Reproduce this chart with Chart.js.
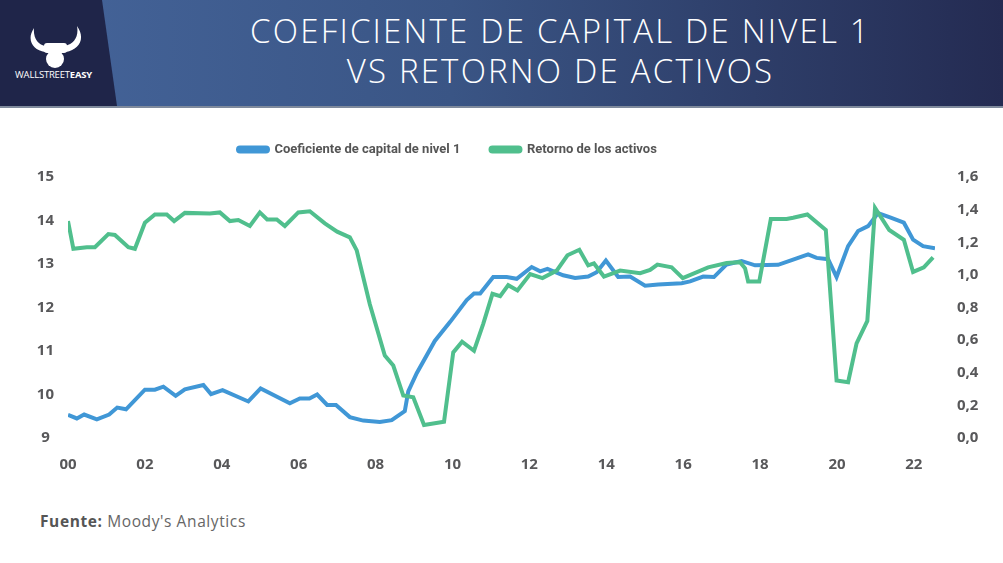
<!DOCTYPE html>
<html>
<head>
<meta charset="utf-8">
<script src="https://cdn.jsdelivr.net/npm/chart.js@4.4.1/dist/chart.umd.min.js"></script>
<style>
  body { margin: 0; width: 1003px; height: 563px; background: #fff; overflow: hidden; position: relative; font-family: 'Open Sans', sans-serif; }
  .header { position: absolute; left: 0; top: 0; width: 1003px; height: 106px;
    background: linear-gradient(90deg, #45659b 0%, #3a5585 45%, #242b52 100%);
    border-bottom: 2px solid #7f8a9c; }
  .brand { position: absolute; left: 0; top: 0; width: 118px; height: 106px; background: #1f2549;
    clip-path: polygon(0 0, 102px 0, 117px 106px, 0 106px); }
  .brand svg { position: absolute; left: 29px; top: 26px; }
  .brand .name { position: absolute; left: 15px; top: 68px; color: #fff; font-size: 9.5px; letter-spacing: -0.2px; }
  .title { position: absolute; left: 118px; right: 0; top: 11px; text-align: center; color: #fff;
    font-weight: 300; font-size: 33px; line-height: 40px; letter-spacing: 2.2px; }
  .source { position: absolute; left: 40px; top: 510px; font-size: 15.5px; color: #666; letter-spacing: 0.6px; }
  .source b { color: #555; }
  #chart { position: absolute; left: 0; top: 110px; }
</style>
</head>
<body>
<div class="header">
  <div class="brand">
    <svg width="54" height="44" viewBox="0 0 54 44">
      <path d="M5 2 C-3 14 4 24 16 26 L17 20 C9 19 4 12 5 2 Z" fill="#fff"/>
      <path d="M48 0 C57 13 50 23 37 26 L36 20 C45 18 50 11 48 0 Z" fill="#fff"/>
      <rect x="15" y="17" width="23" height="10" rx="3" fill="#fff"/>
      <circle cx="26" cy="33" r="9" fill="#fff"/>
    </svg>
    <div class="name">WALLSTREET<b>EASY</b></div>
  </div>
  <div class="title">COEFICIENTE DE CAPITAL DE NIVEL 1<br>VS RETORNO DE ACTIVOS</div>
</div>
<canvas id="chart" width="1003" height="382"></canvas>
<div class="source"><b>Fuente:</b> Moody's Analytics</div>
<script>
// years since 2000 (x) and values
const capYears = [0, 0.23, 0.42, 0.75, 1.07, 1.28, 1.51, 2.0, 2.26, 2.48, 2.8, 3.04, 3.52, 3.72,
  4.02, 4.69, 5.01, 5.77, 6.03, 6.28, 6.48, 6.74, 6.97, 7.33, 7.68, 8.11, 8.42, 8.76,
  8.85, 9.07, 9.54, 9.94, 10.37, 10.56, 10.72, 11.06, 11.41, 11.67, 12.06, 12.28, 12.47, 12.88,
  13.19, 13.53, 13.75, 13.99, 14.31, 14.62, 15.01, 15.35, 15.96, 16.18, 16.52, 16.8, 17.13, 17.52,
  17.87, 18.47, 18.86, 19.25, 19.47, 19.77, 19.99, 20.29, 20.55, 20.81, 21.07, 21.38, 21.74, 21.98,
  22.24, 22.55];
const capValues = [9.53, 9.45, 9.54, 9.43, 9.54, 9.70, 9.66, 10.11, 10.11, 10.18, 9.97, 10.12, 10.22, 10.01,
  10.10, 9.84, 10.14, 9.80, 9.91, 9.91, 10.0, 9.76, 9.76, 9.48, 9.40, 9.37, 9.41, 9.62,
  10.07, 10.49, 11.23, 11.67, 12.17, 12.32, 12.32, 12.70, 12.70, 12.66, 12.93, 12.83, 12.89, 12.74,
  12.68, 12.71, 12.81, 13.08, 12.70, 12.71, 12.50, 12.53, 12.56, 12.60, 12.71, 12.70, 12.99, 13.07,
  12.97, 12.98, 13.10, 13.22, 13.14, 13.11, 12.70, 13.41, 13.76, 13.87, 14.17, 14.07, 13.95, 13.56,
  13.41, 13.36];

const roaYears = [0, 0.14, 0.49, 0.70, 1.05, 1.22, 1.57, 1.74, 2.0, 2.26,
  2.57, 2.76, 3.04, 3.69, 3.95, 4.21, 4.43, 4.73, 4.99, 5.18,
  5.43, 5.64, 5.99, 6.29, 6.68, 7.0, 7.33, 7.51, 7.85, 8.24,
  8.46, 8.72, 8.98, 9.26, 9.78, 10.02, 10.25, 10.56, 10.80, 11.04,
  11.24, 11.45, 11.69, 12.02, 12.34, 12.71, 12.99, 13.30, 13.53, 13.68,
  13.94, 14.36, 14.88, 15.14, 15.33, 15.70, 15.99, 16.65, 17.13, 17.48,
  17.61, 17.69, 17.98, 18.28, 18.69, 18.86, 19.23, 19.71, 19.99, 20.29,
  20.51, 20.79, 20.99, 21.36, 21.74, 21.98, 22.26, 22.50];
const roaValues = [1.33, 1.16, 1.17, 1.17, 1.25, 1.245, 1.17, 1.16, 1.32, 1.37,
  1.37, 1.33, 1.38, 1.377, 1.383, 1.33, 1.336, 1.30, 1.383, 1.34,
  1.34, 1.30, 1.383, 1.39, 1.316, 1.265, 1.23, 1.15, 0.82, 0.505,
  0.444, 0.26, 0.25, 0.08, 0.10, 0.525, 0.59, 0.535, 0.70, 0.884,
  0.87, 0.937, 0.905, 1.005, 0.98, 1.026, 1.12, 1.154, 1.058, 1.07,
  0.99, 1.026, 1.01, 1.03, 1.063, 1.046, 0.98, 1.046, 1.073, 1.078,
  1.04, 0.96, 0.96, 1.342, 1.342, 1.35, 1.37, 1.275, 0.353, 0.342,
  0.58, 0.718, 1.411, 1.275, 1.215, 1.018, 1.046, 1.107];

const xTicks = [0, 2, 4, 6, 8, 10, 12, 14, 16, 18, 20, 22];
const leftTicks = [9, 10, 11, 12, 13, 14, 15];
const rightTicks = [0, 0.2, 0.4, 0.6, 0.8, 1.0, 1.2, 1.4, 1.6];

const blue = '#4097d6';
const green = '#50bf8d';
const tickFont = { family: "'Open Sans', sans-serif", size: 15, weight: 'bold' };

function pts(xs, ys) {
  return xs.map((x, i) => ({ x: x, y: ys[i] }));
}

// legend sits left of centre and a bit higher than chart.js puts it (canvas coords)
const legendPlace = {
  id: 'legendPlace',
  afterLayout(chart) {
    const lg = chart.legend;
    const h = lg.bottom - lg.top;
    lg.left = 208;
    lg.top = 3;
    lg.bottom = lg.top + h;
  }
};

new Chart(document.getElementById('chart'), {
  type: 'line',
  data: {
    datasets: [{
      label: 'Coeficiente de capital de nivel 1',
      data: pts(capYears, capValues),
      borderColor: blue,
      backgroundColor: blue,
      borderWidth: 4,
      pointRadius: 0,
      yAxisID: 'y',
      order: 1
    }, {
      label: 'Retorno de los activos',
      data: pts(roaYears, roaValues),
      borderColor: green,
      backgroundColor: green,
      borderWidth: 4,
      pointRadius: 0,
      yAxisID: 'y1',
      order: 0
    }]
  },
  plugins: [legendPlace],
  options: {
    responsive: false,
    animation: false,
    layout: { padding: { top: 14, bottom: 0, left: 0, right: 0 } },
    plugins: {
      tooltip: { enabled: false },
      legend: {
        align: 'start',
        labels: {
          sort: (a, b) => a.datasetIndex - b.datasetIndex,
          boxWidth: 30,
          boxHeight: 4,
          useBorderRadius: true,
          borderRadius: 2,
          padding: 30,
          color: '#555',
          font: { family: "Roboto, sans-serif", size: 13, weight: 'bold' }
        }
      }
    },
    scales: {
      x: {
        type: 'linear',
        min: 0,
        max: 22.55,
        grid: { display: false, drawTicks: false },
        border: { display: false },
        afterBuildTicks: s => { s.ticks = xTicks.map(v => ({ value: v })); },
        ticks: {
          padding: 18,
          color: '#58585a',
          font: tickFont,
          callback: v => String(v).padStart(2, '0')
        }
      },
      y: {
        position: 'left',
        min: 9,
        max: 15,
        grid: { display: false, drawTicks: false },
        border: { display: false },
        afterBuildTicks: s => { s.ticks = leftTicks.map(v => ({ value: v })); },
        afterFit: s => { s.width = 68; },
        ticks: { padding: 14, crossAlign: 'center', color: '#58585a', font: tickFont }
      },
      y1: {
        position: 'right',
        min: 0,
        max: 1.6,
        grid: { display: false, drawTicks: false },
        border: { display: false },
        afterBuildTicks: s => { s.ticks = rightTicks.map(v => ({ value: v })); },
        afterFit: s => { s.width = 68; },
        ticks: {
          padding: 22,
          crossAlign: 'center',
          color: '#58585a',
          font: tickFont,
          callback: v => v.toFixed(1).replace('.', ',')
        }
      }
    }
  }
});
</script>
</body>
</html>
